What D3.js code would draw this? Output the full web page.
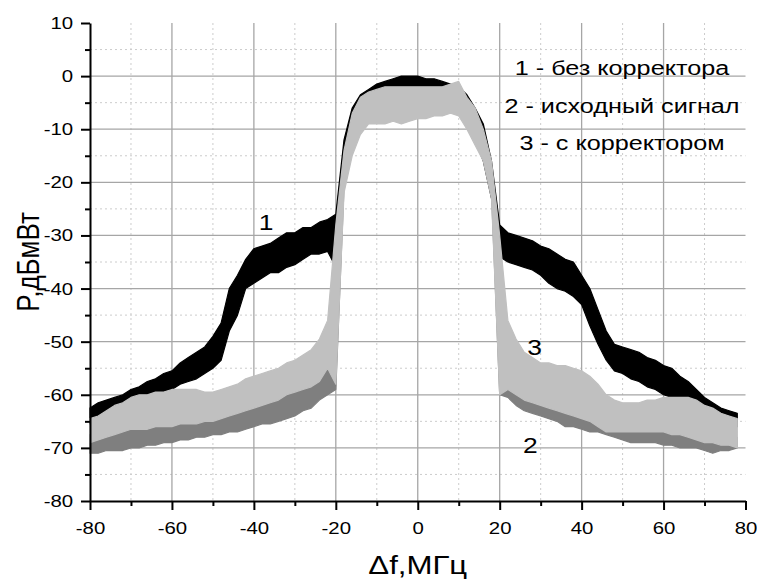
<!DOCTYPE html>
<html>
<head>
<meta charset="utf-8">
<script src="https://cdn.jsdelivr.net/npm/d3@7"></script>
<style>
  body { margin: 0; background: #fff; }
  text { font-family: "Liberation Sans", Arial, sans-serif; }
</style>
</head>
<body>
<div id="chart-area"></div>
<script>
// *********************
// Data (2 MHz step)
// *********************

const freq = [-80,-78,-76,-74,-72,-70,-68,-66,-64,-62,-60,-58,-56,-54,-52,-50,-48,-46,-44,-42,
  -40,-38,-36,-34,-32,-30,-28,-26,-24,-22,-20,-18,-16,-14,-12,-10,-8,-6,-4,-2,
  0,2,4,6,8,10,12,14,16,18,20,22,24,26,28,30,32,34,36,38,
  40,42,44,46,48,50,52,54,56,58,60,62,64,66,68,70,72,74,76,78];

// 1 - без корректора (black), upper / lower edge of the noise band
const s1Hi = [-62.5,-61.5,-61,-60.5,-60,-59,-58.5,-57.5,-57,-56,-55.5,-54,-53,-52,-51,-49,-46.5,-40,-37.5,-34.5,
  -32.5,-32,-31.5,-30.5,-29.5,-29.5,-28.5,-28.5,-27.5,-27,-26,-12,-6,-3.5,-2.5,-1.5,-1,-0.5,0,0,
  0,-0.5,-0.5,-1,-1.5,-2,-3.5,-6,-9,-16,-28,-29.5,-30,-30.5,-31,-32,-32.5,-33.5,-34.5,-35,
  -37.5,-40,-44,-48,-50.5,-51,-51.5,-52,-53,-53.5,-54.5,-55,-56.5,-57.5,-59,-60.5,-61.5,-62.5,-63,-63.5];
const s1Lo = [-65.5,-65,-65,-64,-64,-63,-62.5,-61,-60.5,-59.5,-59,-58,-57.5,-57,-56,-55,-53.5,-48,-45,-40,
  -39,-38,-37,-37,-36,-35.5,-34.5,-33.5,-33.5,-33,-36,-20,-12,-8,-6,-5,-4.5,-4,-4,-3.5,
  -4,-4,-4.5,-4.5,-5,-5.5,-8,-12,-16,-23,-34,-35,-35.5,-36,-36.5,-37.5,-39,-40,-40.5,-41.5,
  -43,-47,-50.5,-53.5,-55.5,-56,-57,-57.5,-58.5,-59,-60,-60.5,-61,-61.5,-62.5,-63.5,-64.5,-65,-65.5,-66];

// 2 - исходный сигнал (medium grey)
const s2Hi = [-67.5,-67.5,-67.5,-67,-67,-66.5,-66.5,-66,-66,-65.5,-65.5,-65,-65,-64.5,-64.5,-64,-63.5,-63,-62.5,-62,
  -61.5,-61,-60.5,-60,-59.5,-58.5,-58,-57,-56,-54,-30,-15,-8,-5,-4,-3.5,-3,-3,-3,-3,
  -3,-3,-2.5,-2.5,-2.5,-2,-4.5,-7,-11,-17,-32,-55,-58,-60,-61,-61,-61.5,-62,-62.5,-63,
  -63.5,-64,-64.5,-65,-65.5,-66,-66,-66,-66.5,-66.5,-66.5,-66.5,-67,-67,-67,-67,-67.5,-67.5,-68,-68];
const s2Lo = [-71,-71,-70.5,-70.5,-70.5,-70,-70,-69.5,-69.5,-69,-69,-68.5,-68.5,-68,-68,-67.5,-67.5,-67,-67,-66.5,
  -66,-65.5,-65.5,-65,-64.5,-64,-63,-62.5,-61,-60,-59,-21,-14,-10.5,-8.5,-8.5,-8.5,-8,-8.5,-8,
  -7.5,-7.5,-7,-7,-6.5,-7,-9.5,-12.5,-15.5,-22,-60,-60.5,-62,-63,-63.5,-64,-64.5,-65,-66,-66,
  -66.5,-67,-67,-67.5,-68,-68.5,-69,-69,-69,-69,-69.5,-69.5,-70,-70,-70,-70.5,-71,-70.5,-70.5,-70];

// 3 - с корректором (light grey)
const s3Hi = [-64.5,-64,-63,-62,-61.5,-60.5,-60,-60,-59.5,-59.5,-59,-59,-59,-59,-59.5,-59.5,-59,-58.5,-58,-57,
  -56.5,-56,-55.5,-55,-54,-53.5,-52.5,-51.5,-49.5,-46,-28,-14,-7,-4,-3,-2.5,-2,-2,-2,-2,
  -2,-2,-2,-2,-1.5,-1,-4,-6,-10,-16,-30,-46,-49.5,-52,-53,-54,-54,-54.5,-54.5,-55,
  -55.5,-56.5,-58,-60,-61,-61.5,-61.5,-61.5,-61,-61,-60.5,-60.5,-60.5,-60.5,-61,-62,-62.5,-63.5,-64,-64.5];
const s3Lo = [-69,-68.5,-68,-67.5,-67,-66.5,-66.5,-66.5,-66,-66,-66,-65.5,-65.5,-65.5,-65,-65,-64.5,-64,-63.5,-63,
  -62.5,-62,-61.5,-61,-60,-59.5,-59,-58.5,-57.5,-55,-58,-22,-15,-11,-9,-9,-9,-8.5,-9,-8.5,
  -8,-8,-7.5,-7.5,-7,-7.5,-10,-13,-16,-23,-60,-59,-60,-61,-61.5,-62,-62.5,-63,-63.5,-64,
  -64.5,-65,-66,-67,-67,-67,-67,-67,-67,-67,-67,-67.5,-67.5,-68,-68.5,-69,-69,-69.5,-69.5,-70];

const yMajor = [-80,-70,-60,-50,-40,-30,-20,-10,0,10];
const yMinor = [-75,-65,-55,-45,-35,-25,-15,-5,5];
const xMajor = [-80,-60,-40,-20,0,20,40,60,80];
const xMinor = [-70,-50,-30,-10,10,30,50,70];

const legendLines = ["1 - без корректора", "2 - исходный сигнал", "3 - с корректором"];
const curveLabels = [{text: "1", f: -37, v: -29}, {text: "3", f: 28.5, v: -52.5}, {text: "2", f: 27.5, v: -71}];

// *********************
// Basic setup SVG
// *********************

const width = 757;
const height = 581;
const stretch = "scale(1.2,1)";   // text in the picture is stretched horizontally

const svg = d3.select("#chart-area")
	.append("svg")
	.attr("width", width)
	.attr("height", height);

svg.append("rect")
	.attr("width", "100%")
	.attr("height", "100%")
	.attr("fill", "white");

// Scales
const x = d3.scaleLinear()
	.domain([-80, 80])
	.range([90, 745.5]);

const y = d3.scaleLinear()
	.domain([-80, 10])
	.range([501, 23]);

// *********************
// Grid
// *********************

const grid = svg.append("g").attr("class", "grid");

grid.selectAll(".vminor")
	.data(xMinor)
	.enter().append("line")
	.attr("x1", d => x(d)).attr("x2", d => x(d))
	.attr("y1", y(10)).attr("y2", y(-80))
	.attr("stroke", "#cccccc")
	.attr("stroke-dasharray", "2,3");

grid.selectAll(".hminor")
	.data(yMinor)
	.enter().append("line")
	.attr("x1", x(-80)).attr("x2", x(80))
	.attr("y1", d => y(d)).attr("y2", d => y(d))
	.attr("stroke", "#cccccc")
	.attr("stroke-dasharray", "2,3");

grid.selectAll(".vmajor")
	.data(xMajor.filter(d => d > -80 && d < 80))
	.enter().append("line")
	.attr("x1", d => x(d)).attr("x2", d => x(d))
	.attr("y1", y(10)).attr("y2", y(-80))
	.attr("stroke", "#a6a6a6")
	.attr("stroke-width", 1.3);

grid.selectAll(".hmajor")
	.data(yMajor.filter(d => d > -80 && d < 10))
	.enter().append("line")
	.attr("x1", x(-80)).attr("x2", x(80))
	.attr("y1", d => y(d)).attr("y2", d => y(d))
	.attr("stroke", "#a6a6a6")
	.attr("stroke-width", 1.3);

// *********************
// Series bands
// *********************

const series = [
	{hi: s1Hi, lo: s1Lo, color: "#000000"},
	{hi: s2Hi, lo: s2Lo, color: "#7f7f7f"},
	{hi: s3Hi, lo: s3Lo, color: "#c0c0c0"}
];

const band = d3.area()
	.x(d => x(d.f))
	.y0(d => y(d.lo))
	.y1(d => y(d.hi));

series.forEach(s => {
	const rows = freq.map((f, i) => ({f: f, hi: s.hi[i], lo: s.lo[i]}));
	svg.append("path")
		.datum(rows)
		.attr("d", band)
		.attr("fill", s.color)
		.attr("stroke", s.color)
		.attr("stroke-width", 1.2)
		.attr("stroke-linejoin", "round");
});

// *********************
// Axes
// *********************

const plain = d => String(d);   // hyphen-minus, as in the picture

svg.append("g")
	.attr("transform", "translate(" + x(-80) + ",0)")
	.call(d3.axisLeft(y).tickValues(yMajor).tickFormat(plain).tickSize(9).tickSizeOuter(0).tickPadding(5));

svg.append("g")
	.attr("transform", "translate(" + x(-80) + ",0)")
	.call(d3.axisLeft(y).tickValues(yMinor).tickSize(5).tickSizeOuter(0).tickFormat(""))
	.select(".domain").remove();

svg.append("g")
	.attr("transform", "translate(0," + y(-80) + ")")
	.call(d3.axisBottom(x).tickValues(xMajor).tickFormat(plain).tickSize(9).tickSizeOuter(0).tickPadding(12));

svg.append("g")
	.attr("transform", "translate(0," + y(-80) + ")")
	.call(d3.axisBottom(x).tickValues(xMinor).tickSize(5).tickSizeOuter(0).tickFormat(""))
	.select(".domain").remove();

svg.selectAll(".domain, .tick line")
	.attr("stroke", "#000")
	.attr("stroke-width", 2);

svg.selectAll(".tick text")
	.attr("font-family", "'Liberation Sans', Arial, sans-serif")
	.attr("font-size", "17px")
	.attr("fill", "#000")
	.attr("transform", stretch);

// Axis titles
svg.append("text")
	.attr("transform", "translate(39," + y(-35) + ") rotate(-90) scale(1,1.2)")
	.attr("text-anchor", "middle")
	.attr("font-size", "26px")
	.attr("fill", "#000")
	.text("P,дБмВт");

svg.append("text")
	.attr("transform", "translate(" + x(0) + ",574) " + stretch)
	.attr("text-anchor", "middle")
	.attr("font-size", "26px")
	.attr("fill", "#000")
	.text("Δf,МГц");

// Legend (plain text lines)
legendLines.forEach((t, i) => {
	svg.append("text")
		.attr("transform", "translate(622," + (75 + i * 37.5) + ") " + stretch)
		.attr("text-anchor", "middle")
		.attr("font-size", "21px")
		.attr("fill", "#000")
		.text(t);
});

// Curve numbers
curveLabels.forEach(c => {
	svg.append("text")
		.attr("transform", "translate(" + x(c.f) + "," + y(c.v) + ") " + stretch)
		.attr("text-anchor", "middle")
		.attr("font-size", "22px")
		.attr("fill", "#000")
		.text(c.text);
});
</script>
</body>
</html>
